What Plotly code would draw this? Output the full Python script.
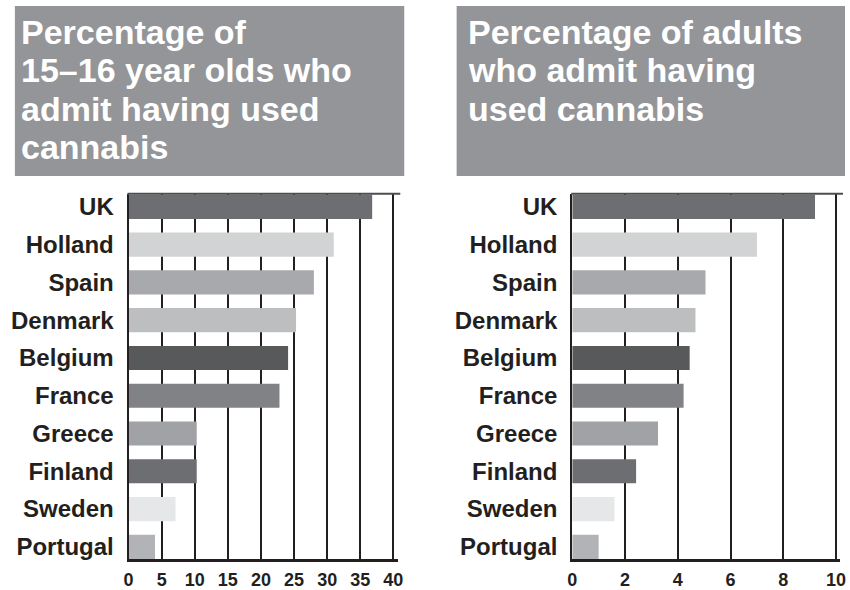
import plotly.graph_objects as go

countries = ["UK", "Holland", "Spain", "Denmark", "Belgium", "France",
             "Greece", "Finland", "Sweden", "Portugal"]
teen_pct = [36.8, 31.0, 28.0, 25.3, 24.1, 22.8, 10.3, 10.3, 7.1, 4.0]
adult_pct = [9.2, 7.0, 5.05, 4.67, 4.45, 4.22, 3.25, 2.42, 1.6, 1.0]
bar_colors = ["#6d6e71", "#d1d3d4", "#a7a9ac", "#bcbec0", "#58595b",
              "#808285", "#a0a2a5", "#6d6e71", "#e6e7e8", "#b1b3b6"]
title_left = ["Percentage of", "15\u201316 year olds who", "admit having used", "cannabis"]
title_right = ["Percentage of adults", "who admit having", "used cannabis"]
teen_ticks = [0, 5, 10, 15, 20, 25, 30, 35, 40]
adult_ticks = [0, 2, 4, 6, 8, 10]

W, H = 850, 590
INK = "#231f20"
FONT = "Liberation Sans"

fig = go.Figure()
fig.add_trace(go.Bar(x=teen_pct, y=countries, orientation="h", width=0.64,
                     marker=dict(color=bar_colors, line=dict(width=0)),
                     xaxis="x", yaxis="y", hoverinfo="x+y"))
fig.add_trace(go.Bar(x=adult_pct, y=countries, orientation="h", width=0.64,
                     marker=dict(color=bar_colors, line=dict(width=0)),
                     xaxis="x2", yaxis="y2", hoverinfo="x+y"))

def px(x):
    return x / W

def py(y):
    return 1 - y / H

ydom = [py(566), py(196)]
common_x = dict(showgrid=True, gridcolor=INK, gridwidth=2, zeroline=False,
                showline=True, linecolor=INK, linewidth=3, ticks="",
                tickfont=dict(family=FONT, size=18, color=INK, weight="bold"),
                ticklabelstandoff=2, fixedrange=True)
common_y = dict(type="category", categoryorder="array", categoryarray=countries,
                range=[9.33, -0.35], showgrid=False, zeroline=False,
                showline=True, linecolor=INK, linewidth=2, ticks="",
                tickfont=dict(family=FONT, size=24, color=INK, weight="bold"),
                ticklabelstandoff=8, fixedrange=True)

fig.update_layout(
    width=W, height=H, margin=dict(l=0, r=0, t=0, b=0),
    paper_bgcolor="white", plot_bgcolor="white", showlegend=False,
    xaxis=dict(domain=[px(125), px(398)], range=[0, 40.75], tickvals=teen_ticks,
               anchor="y", **common_x),
    yaxis=dict(domain=ydom, anchor="x", **common_y),
    xaxis2=dict(domain=[px(574), px(845)], range=[0, 10.15], tickvals=adult_ticks,
                anchor="y2", **common_x),
    yaxis2=dict(domain=ydom, anchor="x2", **common_y),
)

shapes = []
# title boxes
shapes.append(dict(type="rect", xref="paper", yref="paper", x0=px(10), x1=px(404),
                   y0=py(178), y1=py(6), fillcolor="#939598", line=dict(width=0),
                   layer="below"))
shapes.append(dict(type="rect", xref="paper", yref="paper", x0=px(457), x1=px(850),
                   y0=py(178), y1=py(6), fillcolor="#939598", line=dict(width=0),
                   layer="below"))
# top frame lines
shapes.append(dict(type="line", xref="paper", yref="paper", x0=px(124), x1=px(400),
                   y0=py(196), y1=py(196), line=dict(color="#4d4d4f", width=2)))
shapes.append(dict(type="line", xref="paper", yref="paper", x0=px(573), x1=px(848),
                   y0=py(196), y1=py(196), line=dict(color="#4d4d4f", width=2)))
fig.update_layout(shapes=shapes)

annotations = []
line_centers = [32, 71, 110, 149]
for i, t in enumerate(title_left):
    annotations.append(dict(text=t, xref="paper", yref="paper", x=px(14), y=py(line_centers[i]),
                            xanchor="left", yanchor="middle", showarrow=False,
                            font=dict(family=FONT, size=34, color="white", weight="bold")))
for i, t in enumerate(title_right):
    annotations.append(dict(text=t, xref="paper", yref="paper", x=px(466), y=py(line_centers[i]),
                            xanchor="left", yanchor="middle", showarrow=False,
                            font=dict(family=FONT, size=34, color="white", weight="bold")))
fig.update_layout(annotations=annotations)

fig.write_html("out.html", config={"displayModeBar": False},
               post_script="document.body.style.margin='0';document.body.style.overflow='hidden';")
